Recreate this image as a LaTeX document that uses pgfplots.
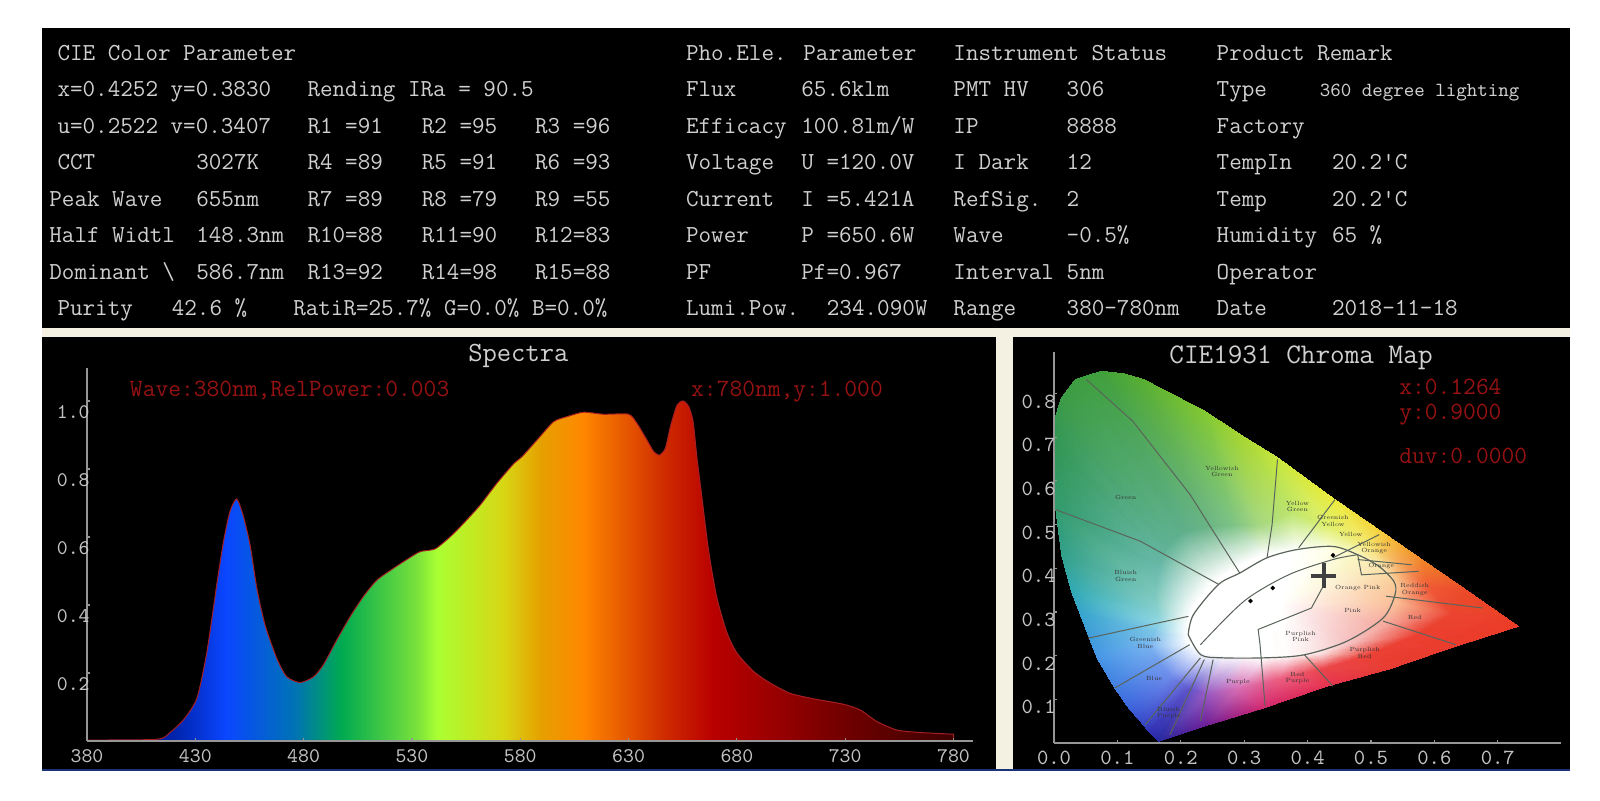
\documentclass[border=0pt]{standalone}
\usepackage{fontspec}
\usepackage{pgfplots}
\pgfplotsset{compat=1.18}

\definecolor{txt}{RGB}{208,208,208}
\definecolor{ticklab}{RGB}{195,195,195}
\definecolor{tick}{RGB}{150,150,150}
\definecolor{redtxt}{RGB}{150,18,18}
\definecolor{cream}{RGB}{244,240,226}
\definecolor{navy}{RGB}{25,50,120}
\definecolor{edge}{RGB}{90,100,90}

\definecolor{sa}{RGB}{0,15,100}
\definecolor{sb}{RGB}{0,35,170}
\definecolor{sc}{RGB}{10,70,255}
\definecolor{sd}{RGB}{0,115,180}
\definecolor{se}{RGB}{0,170,80}
\definecolor{sf}{RGB}{120,225,60}
\definecolor{sg}{RGB}{170,255,50}
\definecolor{sh}{RGB}{215,215,20}
\definecolor{si}{RGB}{230,160,0}
\definecolor{sj}{RGB}{255,135,0}
\definecolor{sk}{RGB}{205,40,0}
\definecolor{sl}{RGB}{185,0,0}
\definecolor{sm}{RGB}{150,0,0}
\definecolor{sn}{RGB}{110,0,0}
\definecolor{so}{RGB}{60,0,0}

% position = 25 + 50*(wave-380)/400 bp, the box of the path is mapped on 25..75bp
\pgfdeclarehorizontalshading{spectrum}{100bp}{
  color(0bp)=(sa); color(25bp)=(sa);
  color(30bp)=(sb); color(33bp)=(sc);
  color(37bp)=(sd); color(39.7bp)=(se);
  color(44bp)=(sf); color(45.2bp)=(sg);
  color(49bp)=(sh); color(51.2bp)=(si);
  color(53.6bp)=(sj); color(58.5bp)=(sk);
  color(61.1bp)=(sl); color(65bp)=(sm);
  color(69bp)=(sn); color(75bp)=(so);
  color(100bp)=(so)}

\newcommand{\T}[3]{\node[anchor=base west,inner sep=0pt,text=txt,font=\fontsize{12.2}{13}\ttfamily] at (#1,#2+7.5) {#3};}
\newcommand{\RT}[3]{\node[anchor=base west,inner sep=0pt,text=redtxt,font=\fontsize{12.4}{13}\ttfamily] at (#1,#2+8) {#3};}
\newcommand{\K}[3]{\node[align=center,inner sep=0pt,text=black!80,font=\fontsize{3}{3.2}\selectfont] at (axis cs:#1,#2) {#3};}

\pgfplotstableread{
wave rel
380 0.003
412.2 0.005
418.3 0.025
424.5 0.062
430.7 0.125
435.3 0.26
439.9 0.46
443 0.586
446 0.675
449.1 0.712
452 0.665
455.3 0.576
458.4 0.449
462.2 0.341
467.6 0.243
472.2 0.189
478.4 0.172
484.6 0.189
489.1 0.224
495.3 0.297
501.5 0.366
507.6 0.425
513.8 0.473
521.5 0.508
527.7 0.534
533.8 0.557
540.7 0.565
547.7 0.601
553.8 0.64
561.5 0.694
569.2 0.758
576.9 0.815
580.8 0.836
587.7 0.885
595.4 0.939
601.6 0.954
609.2 0.967
618.5 0.961
630 0.961
633.9 0.934
638.5 0.885
641.6 0.851
644.3 0.841
647 0.861
649.3 0.924
652.4 0.988
655.2 1.0
657.8 0.983
659.8 0.939
661.6 0.831
663.9 0.714
667 0.557
670.8 0.42
675.5 0.317
680.1 0.258
687.8 0.204
695.5 0.17
704.7 0.14
715.5 0.124
729.3 0.108
737 0.091
744.7 0.057
754 0.032
764.7 0.025
780 0.02
}\spectrumdata

% horseshoe as four rings of 31 vertices: locus, middle, ellipse, centre
\pgfplotstableread{
x y c
.732 .267 rgb255=235,60,40
.65 .35 rgb255=235,75,40
.58 .42 rgb255=240,135,40
.51 .49 rgb255=245,210,60
.44 .56 rgb255=235,235,60
.3525 .653 rgb255=200,230,60
.30 .70 rgb255=170,215,50
.237 .76 rgb255=130,200,50
.141 .832 rgb255=90,175,50
.11 .845 rgb255=78,168,55
.075 .851 rgb255=65,160,60
.034 .832 rgb255=62,158,65
.012 .79 rgb255=60,155,70
.003 .75 rgb255=55,152,78
.001 .68 rgb255=50,150,85
.003 .534 rgb255=50,155,110
.012 .431 rgb255=50,160,140
.027 .35 rgb255=50,170,180
.04 .30 rgb255=55,165,205
.068 .195 rgb255=70,150,230
.096 .126 rgb255=65,125,225
.118 .08 rgb255=60,100,220
.141 .042 rgb255=55,70,200
.15 .025 rgb255=50,50,180
.165 .004 rgb255=40,40,160
.24 .04 rgb255=110,30,150
.33 .08 rgb255=210,40,110
.43 .13 rgb255=230,50,80
.53 .17 rgb255=230,60,50
.63 .22 rgb255=235,60,45
.732 .267 rgb255=235,60,40
.626 .296 rgb255=235,70,50
.59 .356 rgb255=240,90,55
.547 .409 rgb255=245,165,90
.494 .457 rgb255=245,230,110
.435 .494 rgb255=225,240,110
.376 .526 rgb255=190,230,110
.3225 .4975 rgb255=165,215,130
.2825 .4975 rgb255=125,195,135
.24 .493 rgb255=105,180,135
.221 .488 rgb255=100,178,138
.203 .4825 rgb255=95,175,140
.19 .465 rgb255=95,178,145
.1775 .4475 rgb255=95,178,150
.171 .425 rgb255=100,182,160
.166 .4025 rgb255=105,186,170
.16 .34 rgb255=125,200,190
.163 .307 rgb255=135,208,205
.1665 .275 rgb255=145,215,228
.158 .25 rgb255=125,195,232
.150 .223 rgb255=120,180,240
.167 .188 rgb255=115,160,238
.184 .153 rgb255=110,140,235
.199 .138 rgb255=105,115,222
.214 .124 rgb255=95,85,205
.239 .112 rgb255=150,90,195
.290 .125 rgb255=215,110,180
.352 .146 rgb255=235,95,130
.425 .171 rgb255=235,70,75
.497 .203 rgb255=235,65,55
.570 .247 rgb255=235,65,50
.626 .296 rgb255=235,70,50
.54 .32 rgb255=250,190,150
.54 .36 rgb255=250,200,150
.52 .40 rgb255=250,225,170
.48 .43 rgb255=250,245,190
.43 .44 rgb255=255,255,235
.38 .44 rgb255=255,255,255
.33 .43 rgb255=255,255,255
.30 .41 rgb255=255,255,255
.27 .385 rgb255=255,255,255
.2575 .3725 rgb255=255,255,255
.245 .36 rgb255=255,255,255
.2375 .345 rgb255=255,255,255
.23 .33 rgb255=255,255,255
.225 .32 rgb255=255,255,255
.22 .31 rgb255=255,255,255
.212 .28 rgb255=255,255,255
.211 .265 rgb255=255,255,255
.21 .25 rgb255=255,255,255
.2125 .2375 rgb255=255,255,255
.215 .225 rgb255=255,255,255
.2275 .215 rgb255=255,255,255
.24 .205 rgb255=255,255,255
.255 .2025 rgb255=255,255,255
.27 .20 rgb255=255,255,255
.30 .20 rgb255=255,255,255
.33 .195 rgb255=255,255,255
.37 .20 rgb255=255,250,250
.42 .205 rgb255=250,225,225
.47 .23 rgb255=245,190,190
.52 .27 rgb255=245,170,160
.54 .32 rgb255=250,190,150
.36 .32 rgb255=255,255,255
.36 .32 rgb255=255,255,255
.36 .32 rgb255=255,255,255
.36 .32 rgb255=255,255,255
.36 .32 rgb255=255,255,255
.36 .32 rgb255=255,255,255
.36 .32 rgb255=255,255,255
.36 .32 rgb255=255,255,255
.36 .32 rgb255=255,255,255
.36 .32 rgb255=255,255,255
.36 .32 rgb255=255,255,255
.36 .32 rgb255=255,255,255
.36 .32 rgb255=255,255,255
.36 .32 rgb255=255,255,255
.36 .32 rgb255=255,255,255
.36 .32 rgb255=255,255,255
.36 .32 rgb255=255,255,255
.36 .32 rgb255=255,255,255
.36 .32 rgb255=255,255,255
.36 .32 rgb255=255,255,255
.36 .32 rgb255=255,255,255
.36 .32 rgb255=255,255,255
.36 .32 rgb255=255,255,255
.36 .32 rgb255=255,255,255
.36 .32 rgb255=255,255,255
.36 .32 rgb255=255,255,255
.36 .32 rgb255=255,255,255
.36 .32 rgb255=255,255,255
.36 .32 rgb255=255,255,255
.36 .32 rgb255=255,255,255
.36 .32 rgb255=255,255,255
}\chromadata

\begin{document}
\begin{tikzpicture}
\useasboundingbox (0,0) rectangle (800pt,-400pt);
\fill[white] (0,0) rectangle (800pt,-400pt);

% panels, in pixels of the screen shot
\begin{scope}[x=.5102pt,y=-.5102pt]
\fill[cream] (41,321) rectangle (1539,754);
\fill[black] (41,27) rectangle (1539,321);
\fill[black] (41,330) rectangle (976,754);
\fill[black] (993,330) rectangle (1539,754);
\fill[navy] (41,754) rectangle (1539,756);
\end{scope}

\begin{axis}[
    at={(43.5pt,-370.5pt)}, anchor=origin,
    scale only axis, width=443pt, height=186.5pt,
    xmin=380, xmax=789, ymin=0, ymax=1.097,
    axis x line*=bottom, axis y line*=left,
    axis line style={-,color=tick,line width=.8pt},
    axis on top,
    xtick={380,430,480,530,580,630,680,730,780},
    xticklabels={380,430,480,530,580,630,680,730,780},
    ytick={0.2,0.4,0.6,0.8,1.0},
    yticklabels={0.2,0.4,0.6,0.8,1.0},
    tick style={color=tick,line width=.6pt},
    major tick length=1.5pt,
    tick align=inside,
    tick label style={text=ticklab,font=\fontsize{10.4}{11}\ttfamily},
    xticklabel style={yshift=-.5pt},
    yticklabel style={inner sep=0pt,yshift=-5.5pt,xshift=1.5pt},
]
\addplot[shading=spectrum,smooth,tension=.4,draw={rgb,255:red,165;green,30;blue,35},line width=.5pt] table[x=wave,y=rel] {\spectrumdata} \closedcycle;
\end{axis}

\begin{axis}[
    at={(527pt,-371.5pt)}, anchor=origin,
    scale only axis, width=253.6pt, height=195.5pt,
    xmin=0, xmax=0.8, ymin=0, ymax=0.895,
    axis x line*=bottom, axis y line*=left,
    axis line style={-,color=tick,line width=.8pt},
    axis on top,
    xtick={0,0.1,0.2,0.3,0.4,0.5,0.6,0.7},
    xticklabels={0.0,0.1,0.2,0.3,0.4,0.5,0.6,0.7},
    ytick={0.1,0.2,0.3,0.4,0.5,0.6,0.7,0.8},
    yticklabels={0.1,0.2,0.3,0.4,0.5,0.6,0.7,0.8},
    tick style={color=tick,line width=.6pt},
    major tick length=1.5pt,
    tick align=inside,
    tick label style={text=ticklab,font=\fontsize{10.8}{11}\ttfamily},
    xticklabel style={yshift=-.5pt},
    yticklabel style={inner sep=0pt,yshift=-4pt,xshift=1pt},
]
\addplot[surf,shader=interp,mesh/color input=explicit,mesh/rows=4,mesh/cols=31]
  table[x=x,y=y,meta=c] {\chromadata};

% region borders
\addplot[edge,smooth,line width=.6pt] coordinates {(.2117,.248) (.220,.294) (.2596,.363) (.293,.389) (.336,.424) (.384,.443) (.44,.45) (.479,.431) (.512,.405) (.536,.370) (.538,.340) (.519,.286) (.462,.233) (.395,.202) (.333,.195) (.265,.195) (.2315,.202) (.2117,.248)};
\addplot[edge,line width=.5pt] coordinates {(.051,.832) (.124,.737) (.2145,.569) (.293,.389)};
\addplot[edge,line width=.5pt] coordinates {(.003,.534) (.136,.462) (.26,.363)};
\addplot[edge,line width=.5pt] coordinates {(.3525,.649) (.344,.5) (.336,.424)};
\addplot[edge,line width=.5pt] coordinates {(.443,.557) (.386,.447)};
\addplot[edge,line width=.5pt] coordinates {(.513,.477) (.44,.424)};
\addplot[edge,line width=.5pt] coordinates {(.564,.408) (.479,.42)};
\addplot[edge,line width=.5pt] coordinates {(.479,.431) (.485,.385) (.575,.393)};
\addplot[edge,line width=.5pt] coordinates {(.524,.336) (.676,.309)};
\addplot[edge,line width=.5pt] coordinates {(.519,.279) (.634,.225)};
\addplot[edge,line width=.5pt] coordinates {(.395,.202) (.44,.13)};
\addplot[edge,line width=.5pt] coordinates {(.333,.084) (.325,.225) (.322,.26) (.406,.309) (.425,.36)};
\addplot[edge,line width=.5pt] coordinates {(.212,.29) (.054,.24)};
\addplot[edge,line width=.5pt] coordinates {(.214,.225) (.096,.126)};
\addplot[edge,line width=.5pt] coordinates {(.231,.195) (.144,.042)};
\addplot[edge,line width=.5pt] coordinates {(.237,.191) (.183,.019)};
\addplot[edge,line width=.5pt] coordinates {(.251,.191) (.231,.05)};
\addplot[edge,smooth,line width=.5pt] coordinates {(.231,.225) (.30,.325) (.37,.385) (.44,.42) (.479,.431)};
% colour point
\addplot[only marks,mark=+,mark size=6.3pt,mark options={black!75,line width=2pt}] coordinates {(.4252,.3830)};
\addplot[only marks,mark=*,mark size=.9pt,black] coordinates {(.31,.325) (.345,.355) (.44,.43)};

\K{.265}{.622}{Yellowish\\Green}
\K{.113}{.561}{Green}
\K{.113}{.382}{Bluish\\Green}
\K{.144}{.229}{Greenish\\Blue}
\K{.158}{.147}{Blue}
\K{.384}{.542}{Yellow\\Green}
\K{.44}{.508}{Greenish\\Yellow}
\K{.468}{.477}{Yellow}
\K{.505}{.447}{Yellowish\\Orange}
\K{.516}{.406}{Orange}
\K{.479}{.355}{Orange Pink}
\K{.569}{.351}{Reddish\\Orange}
\K{.471}{.304}{Pink}
\K{.569}{.288}{Red}
\K{.389}{.244}{Purplish\\Pink}
\K{.49}{.206}{Purplish\\Red}
\K{.384}{.149}{Red\\Purple}
\K{.29}{.14}{Purple}
\K{.181}{.069}{Bluish\\Purple}
\end{axis}

\begin{scope}[x=.5102pt,y=-.5102pt]
\node[text=txt,font=\fontsize{13.9}{14}\ttfamily] at (508,349) {Spectra};
\node[text=txt,font=\fontsize{14.2}{15}\ttfamily] at (1275,351) {CIE1931 Chroma Map};
\RT{127}{381}{Wave:380nm,RelPower:0.003}
\RT{677}{381}{x:780nm,y:1.000}
\RT{1371}{379}{x:0.1264}
\RT{1371}{403}{y:0.9000}
\RT{1371}{446}{duv:0.0000}

\T{56}{52}{CIE Color Parameter}
\T{56}{87}{x=0.4252 y=0.3830}
\T{301}{87}{Rending IRa = 90.5}
\T{56}{123}{u=0.2522 v=0.3407}
\T{301}{123}{R1 =91}\T{413}{123}{R2 =95}\T{524}{123}{R3 =96}
\T{56}{159}{CCT}\T{192}{159}{3027K}
\T{301}{159}{R4 =89}\T{413}{159}{R5 =91}\T{524}{159}{R6 =93}
\T{48}{195}{Peak Wave}\T{192}{195}{655nm}
\T{301}{195}{R7 =89}\T{413}{195}{R8 =79}\T{524}{195}{R9 =55}
\T{48}{230}{Half Widtl}\T{192}{230}{148.3nm}
\T{301}{230}{R10=88}\T{413}{230}{R11=90}\T{524}{230}{R12=83}
\T{48}{266}{Dominant \textbackslash}\T{192}{266}{586.7nm}
\T{301}{266}{R13=92}\T{413}{266}{R14=98}\T{524}{266}{R15=88}
\T{56}{302}{Purity}\T{168}{302}{42.6 \%}
\T{287}{302}{RatiR=25.7\% G=0.0\% B=0.0\%}

\T{672}{52}{Pho.Ele. Parameter}
\T{672}{87}{Flux}\T{785}{87}{65.6klm}
\T{672}{123}{Efficacy}\T{785}{123}{100.8lm/W}
\T{672}{159}{Voltage}\T{785}{159}{U =120.0V}
\T{672}{195}{Current}\T{785}{195}{I =5.421A}
\T{672}{230}{Power}\T{785}{230}{P =650.6W}
\T{672}{266}{PF}\T{785}{266}{Pf=0.967}
\T{672}{302}{Lumi.Pow.}\T{810}{302}{234.090W}

\T{934}{52}{Instrument Status}
\T{934}{87}{PMT HV}\T{1045}{87}{306}
\T{934}{123}{IP}\T{1045}{123}{8888}
\T{934}{159}{I Dark}\T{1045}{159}{12}
\T{934}{195}{RefSig.}\T{1045}{195}{2}
\T{934}{230}{Wave}\T{1045}{230}{-0.5\%}
\T{934}{266}{Interval}\T{1045}{266}{5nm}
\T{934}{302}{Range}\T{1045}{302}{380-780nm}

\T{1192}{52}{Product Remark}
\T{1192}{87}{Type}
\node[anchor=base west,inner sep=0pt,text=txt,font=\fontsize{10}{11}\ttfamily] at (1293,94.5) {360 degree lighting};
\T{1192}{123}{Factory}
\T{1192}{159}{TempIn}\T{1305}{159}{20.2'C}
\T{1192}{195}{Temp}\T{1305}{195}{20.2'C}
\T{1192}{230}{Humidity}\T{1305}{230}{65 \%}
\T{1192}{266}{Operator}
\T{1192}{302}{Date}\T{1305}{302}{2018-11-18}
\end{scope}
\end{tikzpicture}
\end{document}
